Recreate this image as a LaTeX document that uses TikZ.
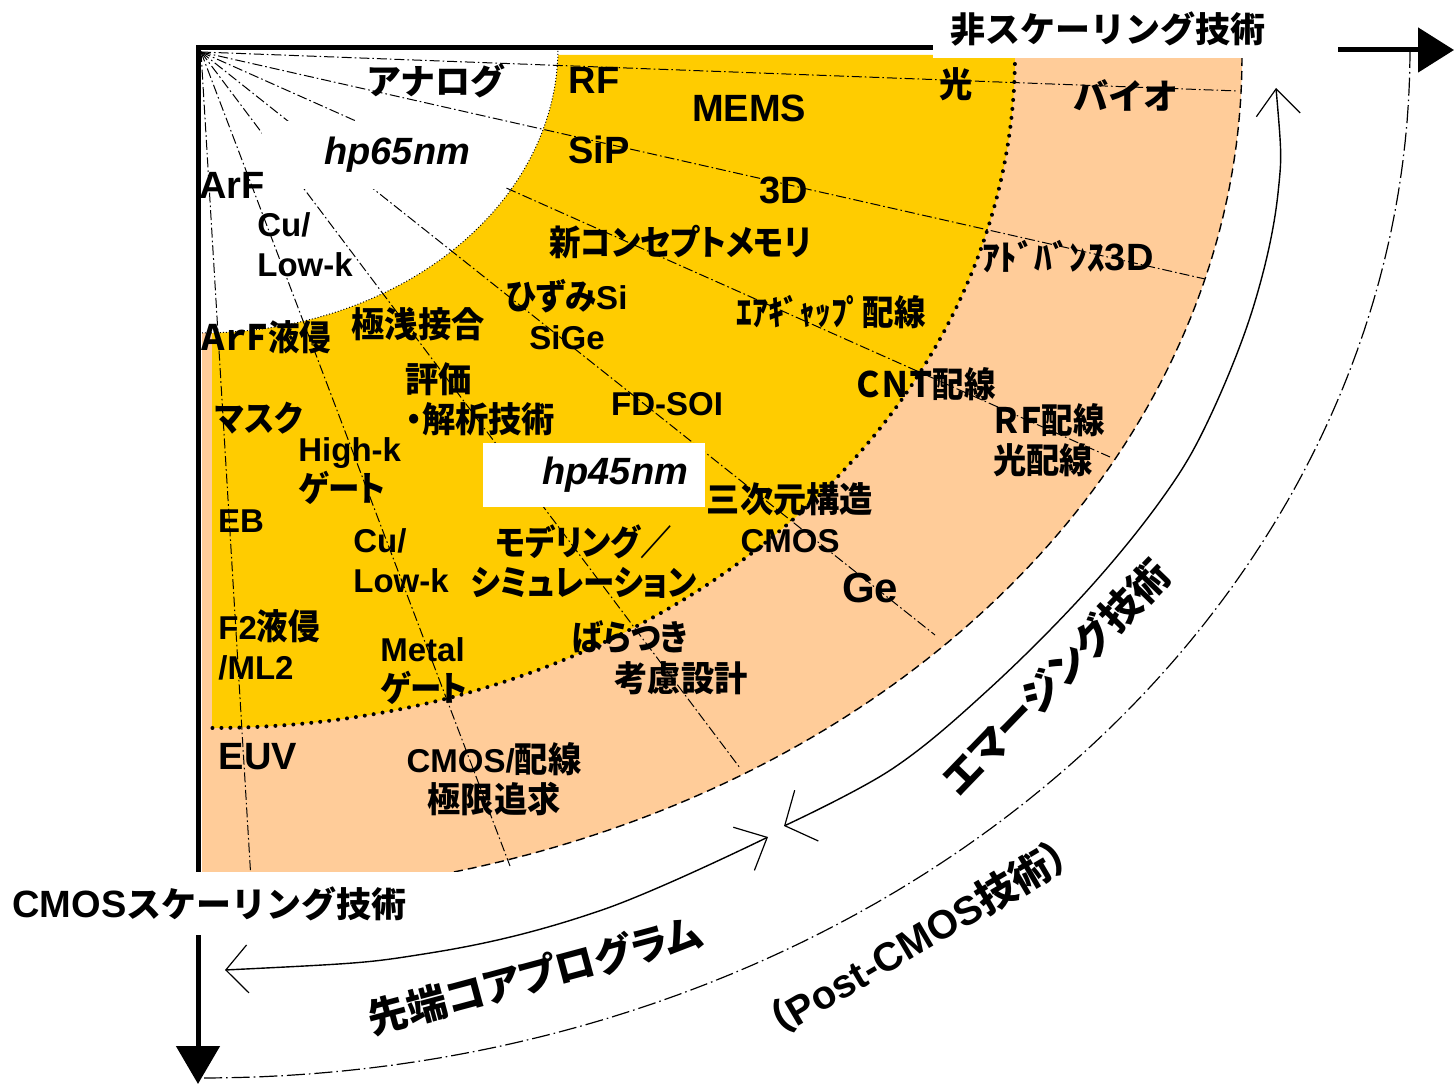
\documentclass[tikz,border=0pt]{standalone}
\usepackage{fontspec}
\setmainfont{Liberation Sans}
\newfontfamily\jpf{Noto Sans CJK JP}[RawFeature=+palt,FakeStretch=0.9]
\newfontfamily\jpk{Noto Sans CJK JP}[RawFeature=+palt,FakeStretch=0.95]
\newfontfamily\jpw{Noto Sans CJK JP}
\newfontfamily\jpl{Noto Sans CJK JP}[RawFeature=+palt]
\usetikzlibrary{arrows.meta}
\definecolor{cyel}{HTML}{FFCC00}
\definecolor{cpch}{HTML}{FFCC99}
\newcommand\J[1]{{\jpf\fontsize{17.5pt}{20pt}\selectfont #1}}
\newcommand\JK[1]{{\jpk\fontsize{17.5pt}{20pt}\selectfont #1}}
\newcommand\JW[1]{{\jpw\fontsize{17.5pt}{20pt}\selectfont #1}}
\newcommand\JL[1]{{\jpl\fontsize{20pt}{22pt}\selectfont #1}}
\tikzset{
  lbl/.style={inner sep=0pt, font=\fontsize{19pt}{20pt}\selectfont\bfseries},
  sml/.style={inner sep=0pt, font=\fontsize{16.5pt}{20pt}\selectfont\bfseries},
  biglbl/.style={inner sep=0pt, font=\fontsize{20pt}{22pt}\selectfont\bfseries},
  radial/.style={line width=0.5pt, dash pattern=on 5pt off 1.5pt on 0.8pt off 1.5pt},
  whiteb/.style={line width=0.5pt, dash pattern=on 0.5pt off 1pt},
  yelb/.style={line width=2pt, line cap=round, dash pattern=on 0pt off 4.5pt},
  pchb/.style={line width=0.7pt, dash pattern=on 4.5pt off 2.5pt},
  outerdd/.style={line width=0.6pt, dash pattern=on 9pt off 2pt on 0.8pt off 2pt},
  arcl/.style={line width=0.7pt},
  axisl/.style={line width=2.5pt}
}
\begin{document}
\begin{tikzpicture}[x=0.5pt,y=-0.5pt]
\useasboundingbox (0,0) rectangle (1454,1085);
% fills
\fill[cpch] (202,57) -- plot[domain=0:90,samples=120,variable=\t] ({202+1040*cos(\t)},{57+840*sin(\t)}) -- cycle;
\fill[cyel] (212,55) -- plot[domain=0:90,samples=120,variable=\t] ({212+803*cos(\t)},{55+673*sin(\t)}) -- cycle;
\fill[white] (202,48) -- plot[domain=0:90,samples=90,variable=\t] ({202+356*cos(\t)},{48+285*sin(\t)}) -- cycle;
% radial lines
\coordinate (O) at (201,52);
\coordinate (ra) at (1238,91);
\coordinate (rb) at (1205,279);
\coordinate (rc) at (1110,457);
\coordinate (rd) at (935,635);
\coordinate (re) at (740,768);
\coordinate (rf) at (510,866);
\coordinate (rg) at (251,880);
\foreach \p in {ra,rb,rc,rd,re,rf,rg} \draw[radial] (O) -- (\p);
% boundaries
\draw[whiteb] plot[domain=0:90,samples=90,variable=\t] ({202+356*cos(\t)},{48+285*sin(\t)});
\draw[yelb] plot[domain=0:90,samples=120,variable=\t] ({212+803*cos(\t)},{55+673*sin(\t)});
\draw[pchb] plot[domain=0:90,samples=150,variable=\t] ({202+1040*cos(\t)},{57+840*sin(\t)});
% outer arcs
\draw[outerdd] plot[domain=0:90,samples=160,variable=\t] ({202+1208*cos(\t)},{50+1028*sin(\t)});
\draw[arcl,{Straight Barb[length=13pt,width=22pt,line width=0.6pt]}-{Straight Barb[length=12pt,width=28pt,line width=0.6pt]}]
  plot[smooth,tension=0.6] coordinates {(1276,88) (1278,193) (1253,308) (1207,423) (1161,500) (1085,593) (988,690) (892,769) (784,826)};
\draw[arcl,{Straight Barb[length=11pt,width=24pt,line width=0.6pt]}-{Straight Barb[length=13pt,width=24pt,line width=0.6pt]}]
  plot[smooth,tension=0.6] coordinates {(225,970) (430,953) (602,910) (768,837)};
% axes
\coordinate (C) at (198,48);
\coordinate (axT) at (940,48);
\coordinate (axB) at (198,875);
\draw[axisl,line join=miter] (axT) -- (C) -- (axB);
\coordinate (tarS) at (1338,50);
\coordinate (tarE) at (1454,50);
\draw[axisl,-{Triangle[length=18pt,width=22pt]}] (tarS) -- (tarE);
\coordinate (barS) at (198,935);
\coordinate (barE) at (198,1084);
\draw[axisl,-{Triangle[length=19pt,width=21.5pt]}] (barS) -- (barE);
% label boxes
\node[lbl,fill=white,minimum width=174.5pt,minimum height=29pt] (toplbl) at (1107.5,29) {\JW{非スケーリング技術}};
\node[lbl,fill=white,anchor=north west,minimum height=31.5pt,text width=230.5pt,inner xsep=6pt,align=left] (botlbl) at (0,872) {CMOS\JW{スケーリング技術}};
\node[lbl,fill=white,text width=86.5pt,inner xsep=17.5pt,minimum height=34pt,align=right] (hp65) at (383.5,155) {\itshape hp65nm};
\node[lbl,fill=white,text width=94pt,inner xsep=8.5pt,minimum height=32pt,align=right] (hp45) at (594,475) {\itshape hp45nm};
% labels
\node[lbl] (analog) at (436,81) {\JW{アナログ}};
\node[lbl] (rflbl) at (594,80) {RF};
\node[lbl] (mems) at (749,108) {MEMS};
\node[lbl] (hikari) at (956,84) {\JK{光}};
\node[lbl] (bio) at (1126,95) {\JW{バイオ}};
\node[lbl] (sip) at (599,150) {SiP};
\node[lbl] (threed) at (784,190) {3D};
\node[lbl] (arf) at (232,185) {ArF};
\node[sml,align=left,anchor=west] (culka) at (257,245) {Cu/\\Low-k};
\node[lbl] (newmem) at (680,242) {\J{新コンセプトメモリ}};
\node[sml,align=center] (sige) at (567,315) {\J{ひずみ}Si\\SiGe};
\node[lbl] (airgap) at (831,312) {\J{ｴｱｷﾞｬｯﾌﾟ配線}};
\node[lbl] (adv) at (1068,257) {\JW{ｱﾄﾞﾊﾞﾝｽ}3D};
\node[lbl] (arfimm) at (266,337) {\J{ＡｒＦ液侵}};
\node[lbl] (shallow) at (418,324) {\JK{極浅接合}};
\node[lbl,align=left,anchor=west] (evalu) at (405,399) {\JK{評価}\\\JK{・解析技術}};
\node[sml] (fdsoi) at (667,404) {FD-SOI};
\node[lbl] (cnt) at (926,384) {\J{ＣＮＴ配線}};
\node[lbl,align=left,anchor=west] (rfopt) at (993,440) {\J{ＲＦ配線}\\\JK{光配線}};
\node[lbl] (mask) at (259,418) {\J{マスク}};
\node[sml,align=left,anchor=west] (highk) at (298,471) {High-k\\\J{ゲート}};
\node[sml,align=center] (cmosthree) at (790,518) {\JK{三次元構造}\\CMOS};
\node[sml] (eb) at (241,521) {EB};
\node[sml,align=left,anchor=west] (culkb) at (353,561) {Cu/\\Low-k};
\node[lbl,align=center] (model) at (584,562) {\J{モデリング／}\\\J{シミュレーション}};
\node[inner sep=0pt,font=\fontsize{21pt}{22pt}\selectfont\bfseries] (ge) at (870,588) {Ge};
\node[sml,align=left,anchor=west] (ftwo) at (218,645) {F2\J{液侵}\\/ML2};
\node[sml,align=left,anchor=west] (metal) at (380,671) {Metal\\\J{ゲート}};
\node[lbl] (bara) at (630,637) {\J{ばらつき}};
\node[lbl] (koryo) at (681,678) {\JK{考慮設計}};
\node[lbl] (euv) at (258,757) {EUV};
\node[sml,align=center] (cmoswire) at (494,779) {CMOS/\JK{配線}\\\JK{極限追求}};
% rotated labels
\node[biglbl,rotate=15] (sentan) at (535,975) {\JL{先端コアプログラム}};
\node[biglbl,rotate=46] (emerg) at (1055,677) {\JL{エマージング技術}};
\node[biglbl,rotate=30.5] (postcmos) at (918,938) {\JL{（}Post-CMOS\JL{技術）}};
\end{tikzpicture}
\end{document}
